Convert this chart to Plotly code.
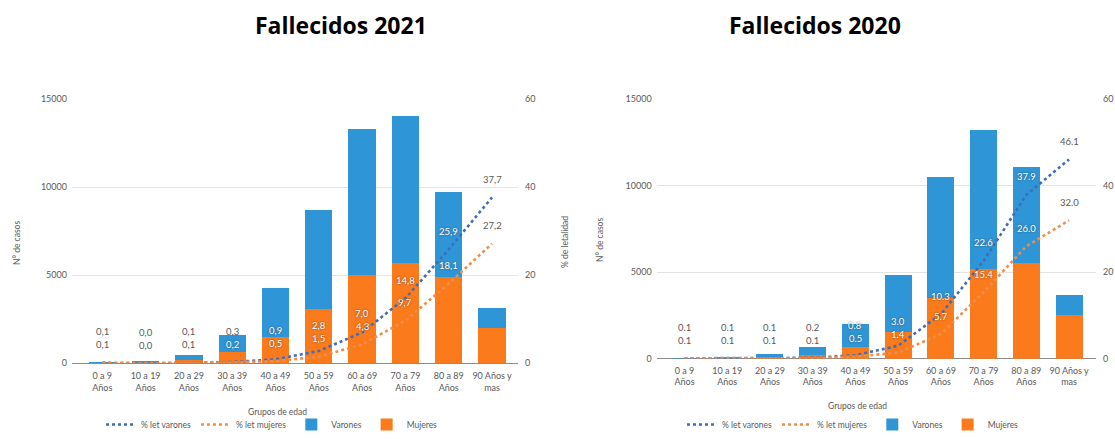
import plotly.graph_objects as go

# Age groups (tick labels) shared by both panels
grupos = ["0 a 9<br>Años", "10 a 19<br>Años", "20 a 29<br>Años", "30 a 39<br>Años",
          "40 a 49<br>Años", "50 a 59<br>Años", "60 a 69<br>Años", "70 a 79<br>Años",
          "80 a 89<br>Años", "90 Años y<br>mas"]

# Deaths by sex, 2021
mujeres_2021 = [15, 25, 200, 630, 1510, 3100, 5020, 5720, 4920, 2020]
varones_2021 = [15, 40, 270, 960, 2750, 5610, 8280, 8330, 4830, 1120]
# Case fatality rate (%), 2021
let_varones_2021 = [0.1, 0.0, 0.1, 0.3, 0.9, 2.8, 7.0, 14.8, 25.9, 37.7]
let_mujeres_2021 = [0.1, 0.0, 0.1, 0.2, 0.5, 1.5, 4.3, 9.7, 18.1, 27.2]

# Deaths by sex, 2020
mujeres_2020 = [10, 15, 100, 200, 700, 1560, 3490, 5170, 5550, 2530]
varones_2020 = [10, 20, 170, 500, 1290, 3280, 7000, 8060, 5520, 1150]
# Case fatality rate (%), 2020
let_varones_2020 = [0.1, 0.1, 0.1, 0.2, 0.8, 3.0, 10.3, 22.6, 37.9, 46.1]
let_mujeres_2020 = [0.1, 0.1, 0.1, 0.1, 0.5, 1.4, 5.7, 15.4, 26.0, 32.0]

W, H = 1115, 439
AZUL = "#2E95D6"
NARANJA = "#FB7A1B"
LINEA_AZUL = "#3F6DB8"
LINEA_NARANJA = "#F08D48"
GRIS = "#595959"
FONT = "Lato"

xs = list(range(len(grupos)))

fig = go.Figure()

panels = [
    dict(xa="x", ya="y", ya2="y2", leg="legend",
         muj=mujeres_2021, var=varones_2021, lv=let_varones_2021, lm=let_mujeres_2021,
         sep=",", x0=72, x1=518, ytop=99.3, ybot=363.3, xr=[-0.70, 9.60], tick_pad=6),
    dict(xa="x2", ya="y3", ya2="y4", leg="legend2",
         muj=mujeres_2020, var=varones_2020, lv=let_varones_2020, lm=let_mujeres_2020,
         sep=".", x0=656.7, x1=1096, ytop=99.3, ybot=358.7, xr=[-0.65, 9.63], tick_pad=5),
]

annotations = []

for p in panels:
    fig.add_trace(go.Bar(x=xs, y=p["muj"], name="Mujeres", marker_color=NARANJA,
                         xaxis=p["xa"], yaxis=p["ya"], legend=p["leg"], legendrank=4,
                         width=0.63, marker_line_width=0))
    fig.add_trace(go.Bar(x=xs, y=p["var"], name="Varones", marker_color=AZUL,
                         xaxis=p["xa"], yaxis=p["ya"], legend=p["leg"], legendrank=3,
                         width=0.63, marker_line_width=0))
    fig.add_trace(go.Scatter(x=xs, y=p["lv"], name="% let varones", mode="lines",
                             line=dict(color=LINEA_AZUL, width=2.6, dash="dot"),
                             xaxis=p["xa"], yaxis=p["ya2"], legend=p["leg"], legendrank=1))
    fig.add_trace(go.Scatter(x=xs, y=p["lm"], name="% let mujeres", mode="lines",
                             line=dict(color=LINEA_NARANJA, width=2.6, dash="dot"),
                             xaxis=p["xa"], yaxis=p["ya2"], legend=p["leg"], legendrank=2))

    # value labels for the fatality lines
    plot_h = p["ybot"] - p["ytop"]
    px_pct = plot_h / 60.0
    px_cnt = plot_h / 15000.0
    for i in xs:
        total_px = (p["muj"][i] + p["var"][i]) * px_cnt
        m, v = p["lm"][i], p["lv"][i]
        shift_m = 18
        shift_v = max(18, 31 + (m - v) * px_pct)
        for val, shift in ((m, shift_m), (v, shift_v)):
            inside = val * px_pct + shift < total_px
            txt = f"{val:.1f}".replace(".", p["sep"])
            if inside:
                font = dict(family=FONT, size=9.5, color="white",
                            shadow="0px 0px 2px #444")
            else:
                font = dict(family=FONT, size=9.5, color=GRIS)
            annotations.append(dict(x=i, y=val, xref=p["xa"], yref=p["ya2"],
                                    yshift=shift, text=txt, showarrow=False,
                                    font=font, xanchor="center", yanchor="middle"))


def ptx(px):
    return px / W


def pty(py):
    return 1 - py / H


title_font = dict(family="Open Sans", size=23, color="black")
small_font = dict(family=FONT, size=8.5, color=GRIS)


def paper_note(px, py, text, font, angle=0):
    return dict(x=ptx(px), y=pty(py), xref="paper", yref="paper", text=text,
                showarrow=False, textangle=angle, font=font,
                xanchor="center", yanchor="middle")


annotations += [
    paper_note(341, 25, "<b>Fallecidos 2021</b>", title_font),
    paper_note(815, 25, "<b>Fallecidos 2020</b>", title_font),
    paper_note(17, 243, "N° de casos", small_font, -90),
    paper_note(565, 242, "% de letalidad", small_font, -90),
    paper_note(600, 240, "N° de casos", small_font, -90),
    paper_note(277, 412, "Grupos de edad", small_font),
    paper_note(857, 406, "Grupos de edad", small_font),
]

tick_font = dict(family=FONT, size=9, color=GRIS)


def xaxis_cfg(p):
    return dict(domain=[ptx(p["x0"]), ptx(p["x1"])], range=p["xr"], tickvals=xs,
                ticktext=grupos, tickfont=tick_font, showgrid=False, zeroline=False,
                showline=False, ticks="", fixedrange=True, anchor=p["ya"],
                automargin=False, ticklabelstandoff=p["tick_pad"])


def yaxis_cfg(p):
    return dict(domain=[pty(p["ybot"]), pty(p["ytop"])], range=[0, 15000],
                tickvals=[0, 5000, 10000, 15000], ticktext=["0", "5000", "10000", "15000"],
                tickfont=tick_font, showgrid=True, gridcolor="#E3E3E3", gridwidth=1,
                zeroline=True, zerolinecolor="#8C8C8C", zerolinewidth=1,
                anchor=p["xa"], ticks="", showline=False, ticklabelstandoff=4,
                automargin=False)


def yaxis2_cfg(p):
    return dict(range=[0, 60], tickvals=[0, 20, 40, 60], tickfont=tick_font,
                overlaying=p["ya"], side="right", anchor=p["xa"], showgrid=False,
                zeroline=False, showline=False, ticks="", ticklabelstandoff=6,
                automargin=False)


def legend_cfg(px):
    return dict(orientation="h", x=ptx(px), y=0, xanchor="center", yanchor="bottom",
                font=dict(family=FONT, size=8.5, color=GRIS), itemwidth=30,
                bgcolor="rgba(0,0,0,0)", traceorder="normal")


pl, pr = panels
fig.update_layout(
    template="none",
    width=W, height=H,
    margin=dict(l=0, r=0, t=0, b=0),
    paper_bgcolor="white", plot_bgcolor="white",
    barmode="stack",
    xaxis=xaxis_cfg(pl), yaxis=yaxis_cfg(pl), yaxis2=yaxis2_cfg(pl),
    xaxis2=xaxis_cfg(pr), yaxis3=yaxis_cfg(pr), yaxis4=yaxis2_cfg(pr),
    legend=legend_cfg(272),
    legend2=legend_cfg(853),
    annotations=annotations,
    showlegend=True,
)

fig.write_html("out.html")
